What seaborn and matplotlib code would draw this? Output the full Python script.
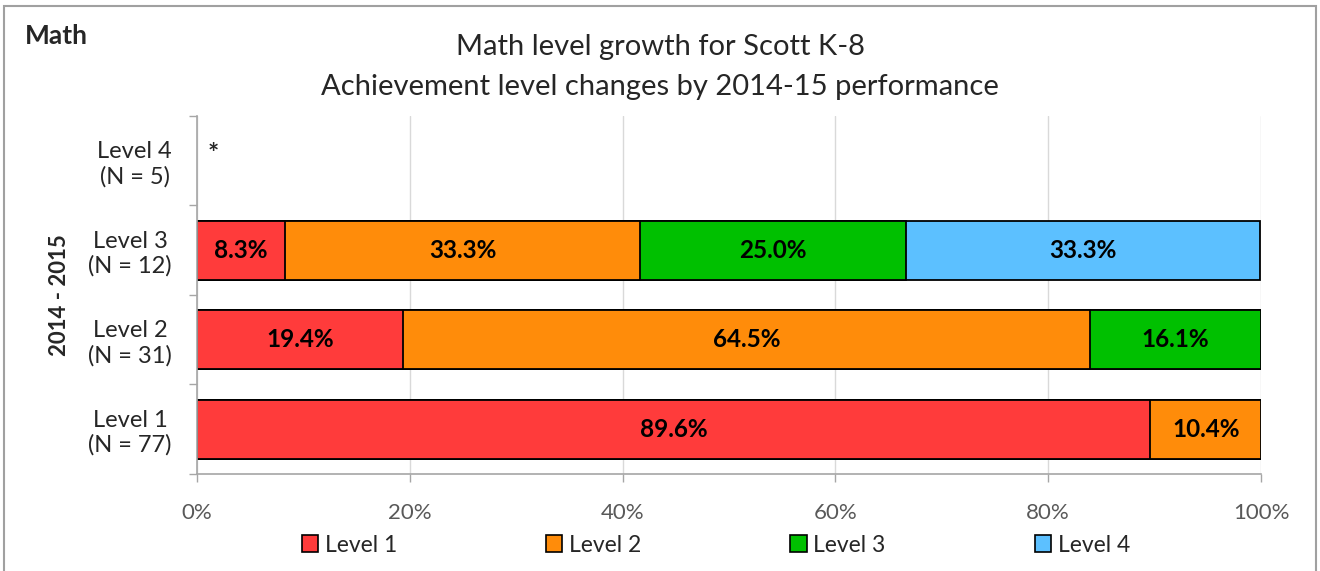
import numpy as np
import pandas as pd
import matplotlib
matplotlib.use('Agg')
import matplotlib.pyplot as plt
import seaborn as sns
from matplotlib.patches import Patch, Rectangle

# data (percent of students in each 2014-15 level)
rows = ['Level 4\n(N = 5)', 'Level 3\n(N = 12)', 'Level 2\n(N = 31)', 'Level 1\n(N = 77)']
levels = ['Level 1', 'Level 2', 'Level 3', 'Level 4']
level1 = [np.nan, 8.3, 19.4, 89.6]
level2 = [np.nan, 33.3, 64.5, 10.4]
level3 = [np.nan, 25.0, 16.1, 0.0]
level4 = [np.nan, 33.3, 0.0, 0.0]
colors = ['#FF3B3B', '#FF8C0A', '#00C000', '#5CC0FF']
xticks = [0, 20, 40, 60, 80, 100]

sns.set_theme(style='white')
plt.rcParams['font.family'] = ['Lato', 'DejaVu Sans']

values = np.array([level1, level2, level3, level4])
cum = np.cumsum(values, axis=0)

fig = plt.figure(figsize=(13.2, 5.71), dpi=100)
ax = fig.add_axes([0.1492, 0.170, 0.9553 - 0.1492, 0.797 - 0.170])

# stacked bars: draw the longest cumulative layer first
for i in range(len(levels) - 1, -1, -1):
    df = pd.DataFrame({'row': rows, 'cum': cum[i]}).dropna()
    sns.barplot(data=df, x='cum', y='row', order=rows, orient='h', color=colors[i],
                saturation=1, width=0.66, edgecolor='black', linewidth=1.3,
                errorbar=None, ax=ax, zorder=2)

# segment labels
for i in range(len(levels)):
    for j in range(len(rows)):
        v = values[i, j]
        if np.isnan(v) or v <= 0:
            continue
        start = cum[i, j] - v
        ax.text(start + v / 2, j, f'{v:.1f}%', ha='center', va='center',
                fontsize=17.5, fontweight='bold', color='black', zorder=3)

ax.text(1.0, -0.08, '*', ha='left', va='center', fontsize=19, fontweight='bold')

ax.set_xlim(0, 100)
ax.set_ylim(3.5, -0.5)
ax.set_xticks(xticks)
ax.set_xticklabels([f'{t}%' for t in xticks], fontsize=16, color='#595959')
ax.set_yticks(range(len(rows)))
ax.set_yticklabels(rows, fontsize=17, multialignment='center')
ax.set_yticks([-0.5, 0.5, 1.5, 2.5, 3.5], minor=True)
ax.tick_params(axis='y', which='major', length=0, pad=18)
ax.tick_params(axis='y', which='minor', length=6, width=1, color='#A6A6A6', left=True)
ax.tick_params(axis='x', which='major', length=6, width=1, color='#A6A6A6', bottom=True, pad=15)
ax.set_xlabel('')
ax.set_ylabel('2014 - 2015', fontsize=16, fontweight='bold', labelpad=13)
ax.grid(axis='x', color='#D9D9D9', linewidth=1)
ax.set_axisbelow(True)
for s in ['top', 'right']:
    ax.spines[s].set_visible(False)
for s in ['left', 'bottom']:
    ax.spines[s].set_color('#A6A6A6')
    ax.spines[s].set_linewidth(1.2)

# titles
fig.text(0.5, 1 - 47 / 571, 'Math level growth for Scott K-8', ha='center', va='center', fontsize=21)
fig.text(0.5, 1 - 87 / 571, 'Achievement level changes by 2014-15 performance', ha='center', va='center', fontsize=21)
fig.text(25 / 1320, 1 - 36 / 571, 'Math', ha='left', va='center', fontsize=19, fontweight='bold')

# legend
handles = [Patch(facecolor=c, edgecolor='black', linewidth=1.2) for c in colors]
fig.legend(handles, levels, loc='center', bbox_to_anchor=(716 / 1320, 1 - 545 / 571), ncol=4,
           frameon=False, fontsize=16.5, handlelength=0.7, handleheight=0.7, handletextpad=0.3,
           columnspacing=6.5)

# outer chart border
fig.patches.append(Rectangle((4 / 1320, -0.01), 1312 / 1320, 1 - 6 / 571 + 0.01,
                             transform=fig.transFigure, fill=False, edgecolor='#A0A0A0', linewidth=1.5))

fig.savefig('out.png', dpi=100)
